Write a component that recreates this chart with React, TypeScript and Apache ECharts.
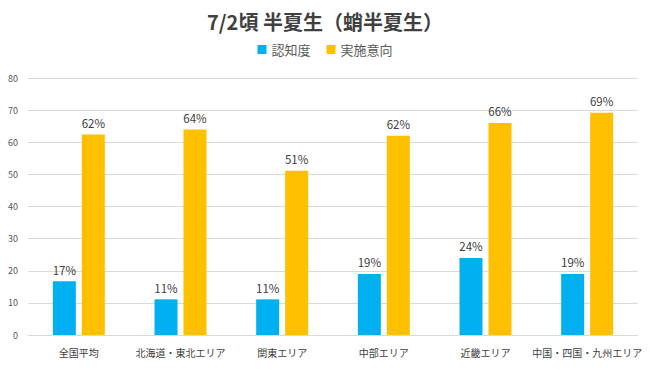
import React, { useEffect, useRef } from "react";
import * as echarts from "echarts";

const categories = ["全国平均", "北海道・東北エリア", "関東エリア", "中部エリア", "近畿エリア", "中国・四国・九州エリア"];
const awareness = [16.7, 11.1, 11.1, 19.0, 24.0, 19.0];
const intention = [62.4, 64.0, 51.1, 62.0, 66.0, 69.2];
const seriesNames = ["認知度", "実施意向"];
const titleText = "7/2頃 半夏生（蛸半夏生）";

const FONT = "'Noto Sans CJK JP', 'Noto Sans', sans-serif";

export default function App() {
  const ref = useRef<HTMLDivElement>(null);
  useEffect(() => {
    if (!ref.current) return;
    const chart = echarts.init(ref.current, undefined, { renderer: "svg" });
    const label = {
      show: true,
      position: "top",
      distance: 6,
      color: "#404040",
      fontSize: 11.5,
      fontFamily: FONT,
      formatter: (p: any) => Math.round(p.value) + "%",
    };
    chart.setOption({
      animation: false,
      backgroundColor: "#ffffff",
      title: {
        text: titleText,
        left: "center",
        top: 6,
        textStyle: { fontSize: 20, fontWeight: "bold", color: "#404040", fontFamily: FONT },
      },
      legend: {
        data: seriesNames,
        top: 38,
        left: "center",
        itemWidth: 9,
        itemHeight: 9,
        itemGap: 16,
        icon: "rect",
        textStyle: { fontSize: 13, color: "#595959", fontFamily: FONT },
      },
      grid: { left: 28, right: 12, top: 78, bottom: 41, containLabel: false },
      xAxis: {
        type: "category",
        data: categories,
        axisLine: { lineStyle: { color: "#d9d9d9" } },
        axisTick: { show: false },
        axisLabel: { color: "#404040", fontSize: 10, fontFamily: FONT, margin: 12, interval: 0 },
      },
      yAxis: {
        type: "value",
        min: 0,
        max: 80,
        interval: 10,
        axisLine: { show: false },
        axisTick: { show: false },
        splitLine: { lineStyle: { color: "#d9d9d9" } },
        axisLabel: { color: "#595959", fontSize: 9, fontFamily: FONT, margin: 10 },
      },
      series: [
        {
          name: seriesNames[0],
          type: "bar",
          data: awareness,
          barWidth: 23,
          barGap: "26%",
          itemStyle: { color: "#00B0F0" },
          label,
        },
        {
          name: seriesNames[1],
          type: "bar",
          data: intention,
          barWidth: 23,
          barGap: "26%",
          itemStyle: { color: "#FFC000" },
          label,
        },
      ],
    });
    return () => chart.dispose();
  }, []);
  return <div ref={ref} style={{ position: "fixed", left: 0, top: 0, width: 650, height: 376 }} />;
}
